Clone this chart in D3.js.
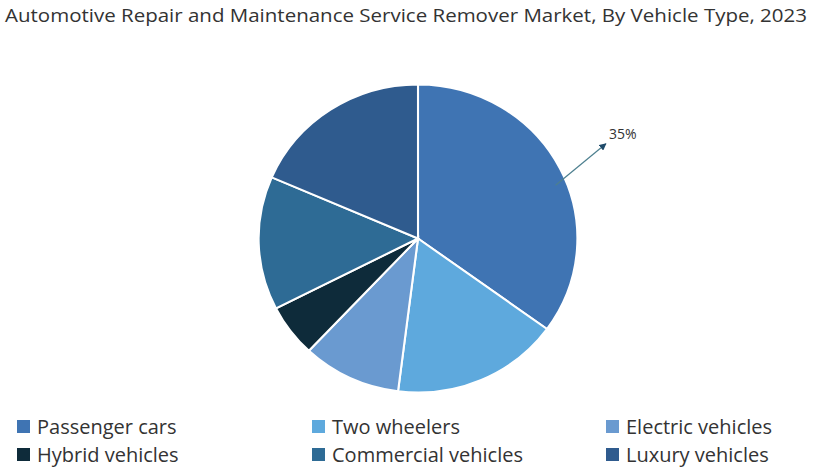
<!DOCTYPE html>
<html>
<head>
<meta charset="utf-8">
<script src="https://cdn.jsdelivr.net/npm/d3@7"></script>
<style>
  body { margin: 0; background: #fff; }
  text { font-family: "Open Sans", "Noto Sans", sans-serif; fill: #333; }
</style>
</head>
<body>
<div id="chart"></div>
<script>
var width = 814,
    height = 468;

var title = "Automotive Repair and Maintenance Service Remover Market, By Vehicle Type, 2023";
var categories = ["Passenger cars", "Two wheelers", "Electric vehicles", "Hybrid vehicles", "Commercial vehicles", "Luxury vehicles"];
var shares = [35, 17, 10, 5.5, 14, 18.5];
var colors = ["#3f74b3", "#5ea9dd", "#6a9ad0", "#0e2b3a", "#2e6b95", "#2f5b8e"];
var calloutLabel = "35%";

var svg = d3.select("#chart").append("svg")
    .attr("width", width)
    .attr("height", height);

// title, squeezed to the reference width
svg.append("text")
    .attr("x", 5)
    .attr("y", 22)
    .style("font-size", "19px")
    .attr("textLength", 802)
    .attr("lengthAdjust", "spacingAndGlyphs")
    .text(title);

var cx = 418, cy = 238.5, r = 154;
var color = d3.scaleOrdinal().domain(categories).range(colors);

var pie = d3.pie().sort(null).value(function(d) { return d.v; });
var arcs = pie(categories.map(function(c, i) { return { k: c, v: shares[i] }; }));
var arc = d3.arc().innerRadius(0).outerRadius(r);

var g = svg.append("g")
    .attr("transform", "translate(" + cx + "," + cy + ") scale(1.035,1)");

g.selectAll("path")
    .data(arcs)
    .enter().append("path")
    .attr("d", arc)
    .attr("fill", function(d) { return color(d.data.k); })
    .attr("stroke", "#fff")
    .attr("stroke-width", 2);

// callout arrow for the first slice
svg.append("defs").append("marker")
    .attr("id", "head")
    .attr("viewBox", "0 0 10 10")
    .attr("refX", 9).attr("refY", 5)
    .attr("markerWidth", 6).attr("markerHeight", 6)
    .attr("orient", "auto")
  .append("path")
    .attr("d", "M0,0 L10,5 L0,10 z")
    .attr("fill", "#1f4a6a");

var a0 = arcs[0];
var mid = (a0.startAngle + a0.endAngle) / 2;
var p1 = d3.arc().innerRadius(r * 0.93).outerRadius(r * 0.93).centroid({ startAngle: mid + 0.09, endAngle: mid + 0.09 });
var p2 = d3.arc().innerRadius(r * 1.33).outerRadius(r * 1.33).centroid({ startAngle: mid - 0.01, endAngle: mid - 0.01 });

svg.append("line")
    .attr("x1", cx + p1[0] * 1.035).attr("y1", cy + p1[1])
    .attr("x2", cx + p2[0] * 1.035).attr("y2", cy + p2[1])
    .attr("stroke", "#4d7f8f")
    .attr("stroke-width", 1.2)
    .attr("marker-end", "url(#head)");

svg.append("text")
    .attr("x", cx + p2[0] * 1.035 + 3)
    .attr("y", cy + p2[1] - 5)
    .style("font-size", "14px")
    .text(calloutLabel);

// legend, 3 columns x 2 rows
var colX = [17, 312, 606];
var rowY = [427, 455];
var legend = svg.selectAll(".legend")
    .data(categories)
    .enter().append("g")
    .attr("class", "legend")
    .attr("transform", function(d, i) {
        return "translate(" + colX[i % 3] + "," + rowY[Math.floor(i / 3)] + ")";
    });

legend.append("rect")
    .attr("x", 0).attr("y", -7)
    .attr("width", 13).attr("height", 13)
    .attr("fill", function(d) { return color(d); });

legend.append("text")
    .attr("x", 20)
    .attr("y", 0)
    .attr("dy", "0.36em")
    .style("font-size", "20px")
    .text(function(d) { return d; });
</script>
</body>
</html>
